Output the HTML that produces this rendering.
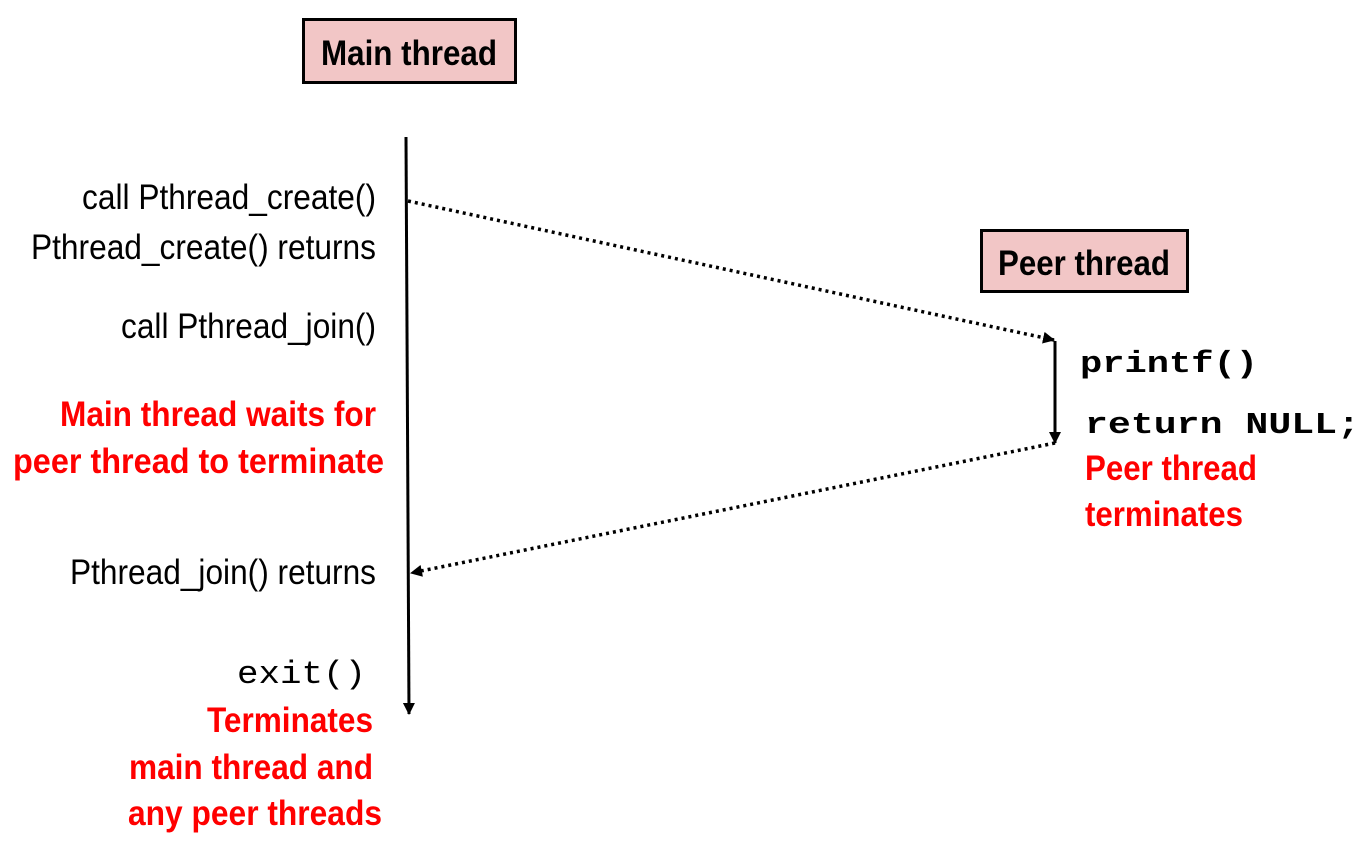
<!DOCTYPE html>
<html><head><meta charset="utf-8"><style>html,body{margin:0;padding:0;background:#fff}svg{display:block}</style></head>
<body>
<svg width="1369" height="854" viewBox="0 0 1369 854" xmlns="http://www.w3.org/2000/svg">
<defs>
<marker id="ah" markerWidth="12" markerHeight="12" refX="11" refY="6" orient="auto" markerUnits="userSpaceOnUse">
<path d="M0,0 L12,6 L0,12 z" fill="#000"/></marker>
</defs>
<rect x="303.5" y="19.5" width="212" height="63" fill="#f2c6c6" stroke="#000" stroke-width="3"/>
<text x="409" y="65" text-anchor="middle" font-family="Liberation Sans, sans-serif" font-weight="bold" font-size="35" textLength="176" lengthAdjust="spacingAndGlyphs">Main thread</text>
<rect x="981.5" y="230.5" width="206" height="61" fill="#f2c6c6" stroke="#000" stroke-width="3"/>
<text x="1084" y="275" text-anchor="middle" font-family="Liberation Sans, sans-serif" font-weight="bold" font-size="35" textLength="172" lengthAdjust="spacingAndGlyphs">Peer thread</text>

<line x1="406" y1="137" x2="409" y2="714" stroke="#000" stroke-width="3" marker-end="url(#ah)"/>
<line x1="408" y1="201" x2="1054" y2="340" stroke="#000" stroke-width="3.5" stroke-dasharray="3,4" marker-end="url(#ah)"/>
<line x1="1055" y1="341" x2="1055" y2="443" stroke="#000" stroke-width="3" marker-end="url(#ah)"/>
<line x1="1055" y1="443" x2="411" y2="573" stroke="#000" stroke-width="3.5" stroke-dasharray="3,4" marker-end="url(#ah)"/>

<g font-family="Liberation Sans, sans-serif" font-size="35" fill="#000">
<text x="82" y="209" textLength="294" lengthAdjust="spacingAndGlyphs">call Pthread_create()</text>
<text x="31" y="259" textLength="345" lengthAdjust="spacingAndGlyphs">Pthread_create() returns</text>
<text x="121" y="338" textLength="255" lengthAdjust="spacingAndGlyphs">call Pthread_join()</text>
<text x="70" y="584" textLength="306" lengthAdjust="spacingAndGlyphs">Pthread_join() returns</text>
</g>
<g font-family="Liberation Sans, sans-serif" font-size="35" font-weight="bold" fill="#ff0000">
<text x="60" y="426" textLength="316" lengthAdjust="spacingAndGlyphs">Main thread waits for</text>
<text x="13" y="473" textLength="371" lengthAdjust="spacingAndGlyphs">peer  thread to terminate</text>
<text x="207" y="732" textLength="166" lengthAdjust="spacingAndGlyphs">Terminates</text>
<text x="129" y="779" textLength="244" lengthAdjust="spacingAndGlyphs">main thread and</text>
<text x="128" y="825" textLength="254" lengthAdjust="spacingAndGlyphs">any peer threads</text>
<text x="1085" y="480" textLength="172" lengthAdjust="spacingAndGlyphs">Peer thread</text>
<text x="1085" y="526" textLength="158" lengthAdjust="spacingAndGlyphs">terminates</text>
</g>
<text x="237" y="683" font-family="Liberation Mono, monospace" font-size="32" textLength="129" lengthAdjust="spacingAndGlyphs">exit()</text>
<g font-family="Liberation Mono, monospace" font-size="31" font-weight="bold">
<text x="1080" y="372" textLength="178" lengthAdjust="spacingAndGlyphs">printf()</text>
<text x="1085" y="433" textLength="275" lengthAdjust="spacingAndGlyphs">return NULL;</text>
</g>
</svg>
</body></html>
